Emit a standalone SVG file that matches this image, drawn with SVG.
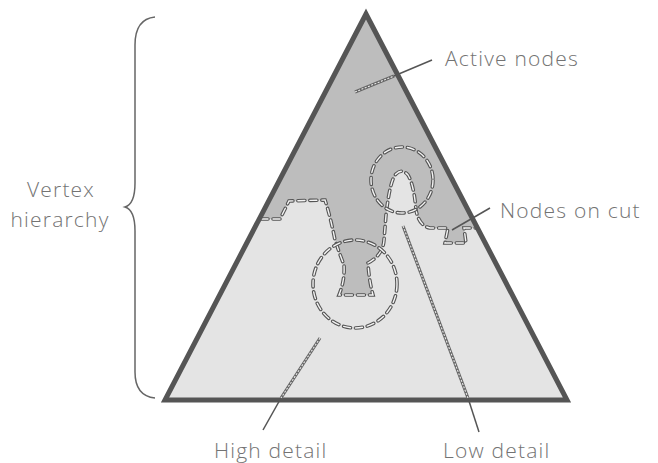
<svg xmlns="http://www.w3.org/2000/svg" width="658" height="463" viewBox="0 0 658 463">
<style>
.lbl{font-family:"Open Sans","Liberation Sans",sans-serif;font-size:21px;font-weight:300;letter-spacing:1.2px;fill:#737373}
.dashO{fill:none;stroke:#555;stroke-width:3.6;stroke-dasharray:7 5;stroke-linecap:round}
.dashI{fill:none;stroke:#f4f4f4;stroke-width:1.4;stroke-dasharray:7 5;stroke-linecap:round}
.leadIn{stroke:#666;stroke-width:3}
.leadInL{stroke:#e8e8e8;stroke-width:1.1;stroke-dasharray:2 1.5}
.leadOut{stroke:#555;stroke-width:1.5}
</style>
<rect width="658" height="463" fill="#fff"/>
<g id="hierarchy">
<polygon points="366,14 165,400 567,400" fill="#e4e4e4"/>
<path id="active-region" d="M366 14 L259.5 219 L280 219 L289 201 L325 200 Q330 215 335 240 Q340 255 344 265 Q345 280 339 295 L373 295 Q369 280 368 263 Q383 255 384 240 L386 215 Q390 180 396 174 Q402 168 408 175 Q414 185 416 210 Q419 226 430 228 L448 228 L445 243 L466 243 L464 228 L477 228 Z" fill="#bdbdbd"/>
</g>
<g id="cut">
<path class="dashO" d="M261 219 L280 219 L289 201 L325 200 Q330 215 335 240 Q340 255 344 265 Q345 280 339 295 L373 295 Q369 280 368 263 Q383 255 384 240 L386 215 Q390 180 396 174 Q402 168 408 175 Q414 185 416 210 Q419 226 430 228 L448 228 L445 243 L466 243 L464 228 L476 228"/>
<path class="dashI" d="M261 219 L280 219 L289 201 L325 200 Q330 215 335 240 Q340 255 344 265 Q345 280 339 295 L373 295 Q369 280 368 263 Q383 255 384 240 L386 215 Q390 180 396 174 Q402 168 408 175 Q414 185 416 210 Q419 226 430 228 L448 228 L445 243 L466 243 L464 228 L476 228"/>
</g>
<g id="circle-coarse">
<ellipse class="dashO" cx="402" cy="180" rx="31" ry="33"/>
<ellipse class="dashI" cx="402" cy="180" rx="31" ry="33"/>
</g>
<g id="circle-fine">
<ellipse class="dashO" cx="355" cy="284" rx="42" ry="44"/>
<ellipse class="dashI" cx="355" cy="284" rx="42" ry="44"/>
</g>
<g id="triangle-outline">
<polygon points="366,14 165,400 567,400" fill="none" stroke="#555" stroke-width="5" stroke-linejoin="miter"/>
</g>
<g id="connectors">
<line class="leadIn" x1="355" y1="92" x2="394" y2="76"/>
<line class="leadInL" x1="355" y1="92" x2="394" y2="76"/>
<line class="leadOut" x1="394" y1="76" x2="432" y2="60"/>
<line class="leadOut" x1="452" y1="230" x2="490" y2="208" stroke-width="2.5"/>
<line class="leadIn" x1="320" y1="338" x2="281" y2="398"/>
<line class="leadInL" x1="320" y1="338" x2="281" y2="398"/>
<line class="leadOut" x1="281" y1="398" x2="263" y2="430"/>
<line class="leadIn" x1="403" y1="226" x2="468" y2="398"/>
<line class="leadInL" x1="403" y1="226" x2="468" y2="398"/>
<line class="leadOut" x1="468" y1="398" x2="479" y2="432"/>
<path d="M155 17 Q135 19 135 45 L135 183 Q135 204 125 207 Q135 210 135 231 L135 372 Q135 396 155 398" fill="none" stroke="#666" stroke-width="1.5"/>
</g>
<g id="labels">
<text class="lbl" x="445" y="66">Active nodes</text>
<text class="lbl" x="500" y="218">Nodes on cut</text>
<text class="lbl" x="61" y="197" text-anchor="middle">Vertex</text>
<text class="lbl" x="60" y="227" text-anchor="middle">hierarchy</text>
<text class="lbl" x="214" y="458">High detail</text>
<text class="lbl" x="443" y="458">Low detail</text>
</g>
</svg>
